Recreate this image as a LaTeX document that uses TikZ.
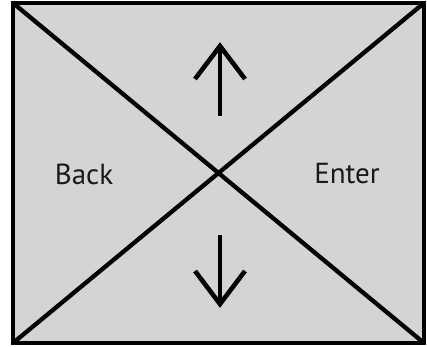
\documentclass[tikz,border=0pt]{standalone}
\usepackage{fontspec}
\setmainfont{PT Sans}
\definecolor{panel}{HTML}{D3D4D6}
\begin{document}
\begin{tikzpicture}[x=1pt,y=-1pt,
  frame/.style={draw=black,line width=3.2pt,fill=panel},
  diag/.style={draw=black,line width=4.3pt},
  arr/.style={draw=black,line width=4.6pt,line join=miter},
  lbl/.style={font=\fontsize{29}{31}\selectfont,text=black!90}]
\useasboundingbox (0,0) rectangle (427,346);
\coordinate (tl) at (13,3);
\coordinate (tr) at (424,3);
\coordinate (bl) at (13,343);
\coordinate (br) at (424,343);
\draw[frame] (tl) rectangle (br);
\draw[diag] (tl) -- (br);
\draw[diag] (tr) -- (bl);
% up arrow
\coordinate (ut) at (220,46);
\coordinate (ub) at (220,116);
\draw[arr] (ut) -- (ub);
\draw[arr] (195,79) -- (220,46) -- (245,79);
% down arrow
\coordinate (dt) at (220,235);
\coordinate (db) at (220,304);
\draw[arr] (dt) -- (db);
\draw[arr] (195,271) -- (220,304) -- (245,271);
\node[lbl] (back) at (84,174) {Back};
\node[lbl] (enter) at (347,174) {Enter};
\end{tikzpicture}
\end{document}
